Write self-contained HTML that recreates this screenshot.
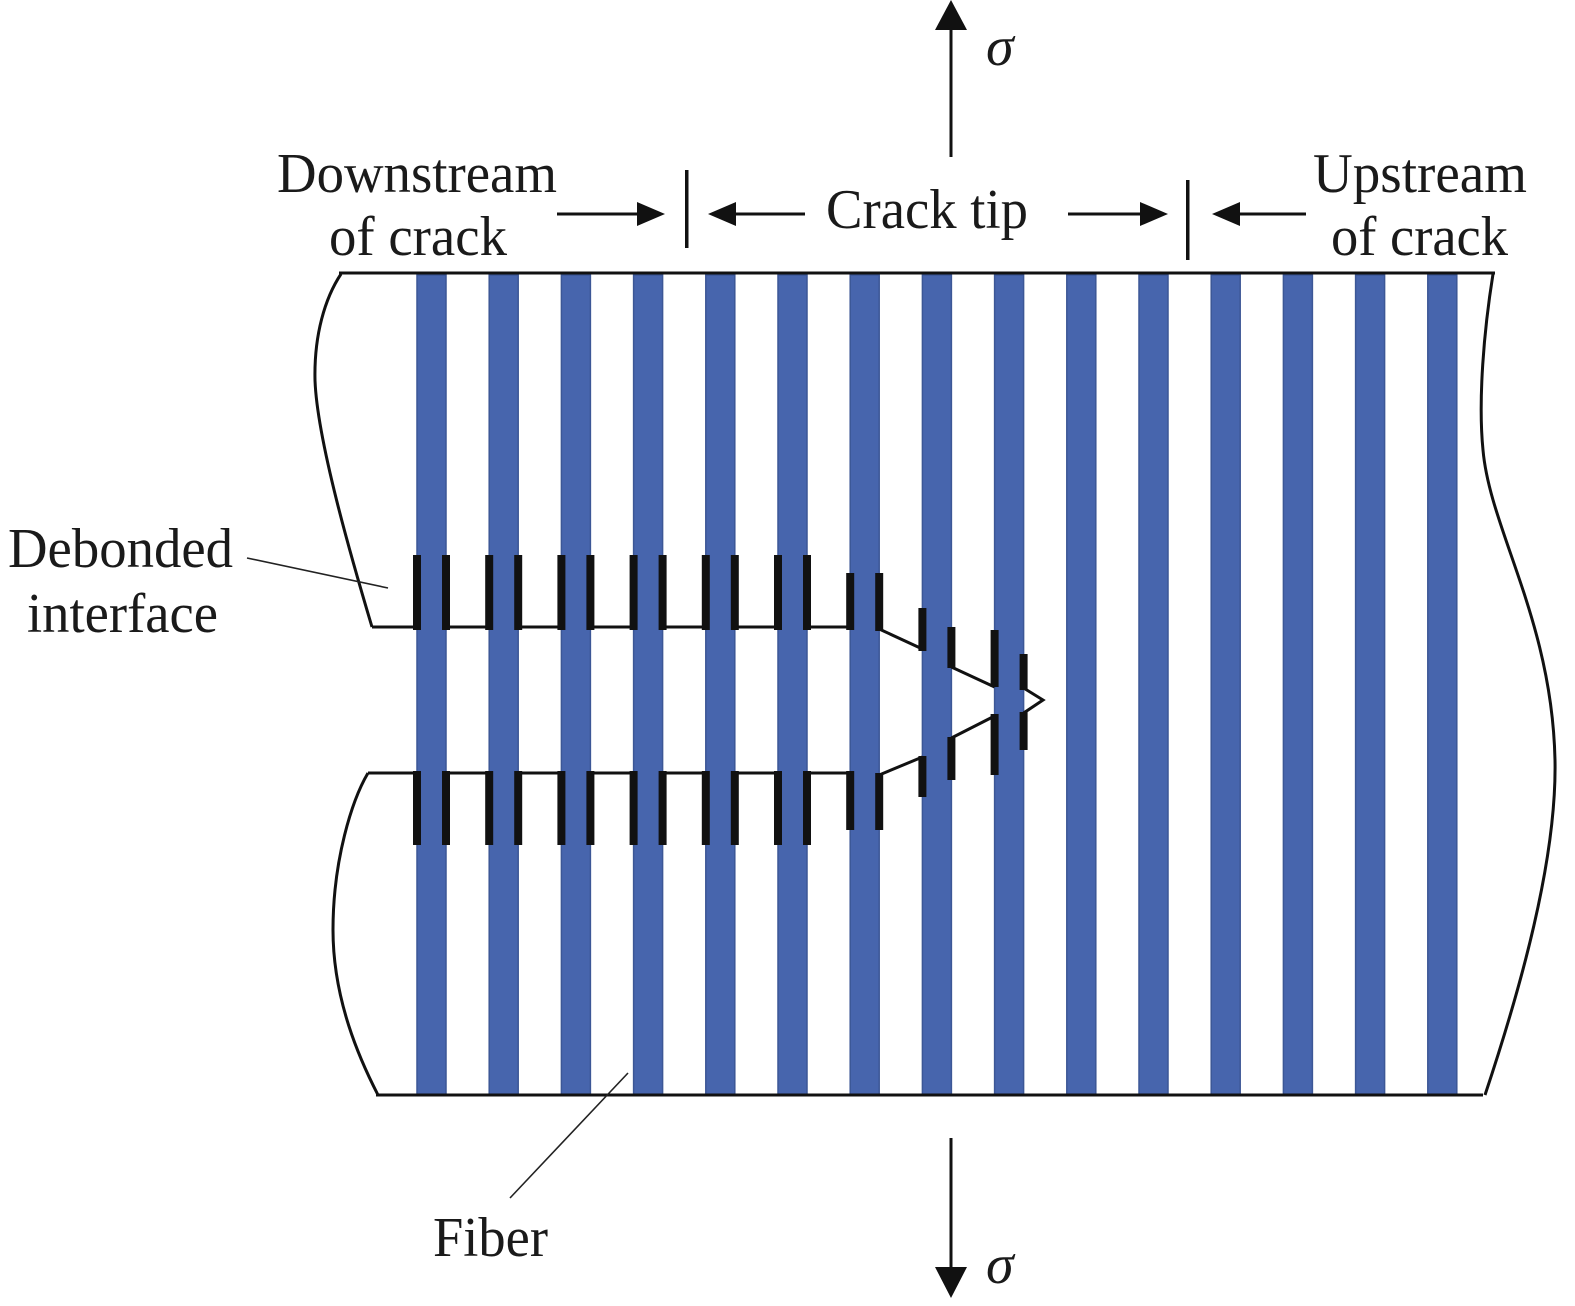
<!DOCTYPE html>
<html>
<head>
<meta charset="utf-8">
<style>
  html, body { margin: 0; padding: 0; background: #ffffff; }
  svg { display: block; }
  text { font-family: "Liberation Serif", "DejaVu Serif", serif; fill: #1a1a1a; }
</style>
</head>
<body>
<svg width="1575" height="1306" viewBox="0 0 1575 1306" xmlns="http://www.w3.org/2000/svg">
  <rect x="0" y="0" width="1575" height="1306" fill="#ffffff"/>

  <!-- Fibers -->
  <g fill="#4765ad" stroke="#3c5796" stroke-width="1.5">
    <rect x="417" y="275" width="29" height="820"/>
    <rect x="489.2" y="275" width="29" height="820"/>
    <rect x="561.4" y="275" width="29" height="820"/>
    <rect x="633.6" y="275" width="29" height="820"/>
    <rect x="705.8" y="275" width="29" height="820"/>
    <rect x="778" y="275" width="29" height="820"/>
    <rect x="850.2" y="275" width="29" height="820"/>
    <rect x="922.4" y="275" width="29" height="820"/>
    <rect x="994.6" y="275" width="29" height="820"/>
    <rect x="1066.8" y="275" width="29" height="820"/>
    <rect x="1139" y="275" width="29" height="820"/>
    <rect x="1211.2" y="275" width="29" height="820"/>
    <rect x="1283.4" y="275" width="29" height="820"/>
    <rect x="1355.6" y="275" width="29" height="820"/>
    <rect x="1427.8" y="275" width="29" height="820"/>
  </g>

  <!-- Top and bottom boundary lines -->
  <g stroke="#111" stroke-width="3" fill="none">
    <path d="M339,273 H1495"/>
    <path d="M376,1095 H1483"/>
    <!-- Left boundaries -->
    <path d="M341,274 C325,298 314,335 315,380 C317,440 352,560 372,627"/>
    <path d="M368,773 C352,800 333,860 333,930 C333,1000 360,1060 378,1095"/>
    <!-- Right boundary -->
    <path d="M1493,274 C1484,330 1478,400 1483,450 C1490,530 1552,620 1555,760 C1557,860 1520,990 1485,1095"/>
  </g>

  <!-- Crack lines -->
  <g stroke="#111" stroke-width="3" fill="none" stroke-linejoin="miter">
    <path d="M372,627 H417"/>
    <path d="M446,627 H489.2"/>
    <path d="M518.2,627 H561.4"/>
    <path d="M590.4,627 H633.6"/>
    <path d="M662.6,627 H705.8"/>
    <path d="M734.8,627 H778"/>
    <path d="M807,627 H850.2"/>
    <path d="M879.2,629 L922.4,649"/>
    <path d="M951.4,667 L994.6,687"/>
    <path d="M1023.6,688 L1043,700 L1023.6,713"/>

    <path d="M368,773 H417"/>
    <path d="M446,773 H489.2"/>
    <path d="M518.2,773 H561.4"/>
    <path d="M590.4,773 H633.6"/>
    <path d="M662.6,773 H705.8"/>
    <path d="M734.8,773 H778"/>
    <path d="M807,773 H850.2"/>
    <path d="M879.2,775 L922.4,757"/>
    <path d="M951.4,738 L994.6,716"/>
  </g>

  <!-- Debonded interface ticks -->
  <g fill="#111">
    <!-- upper -->
    <rect x="413" y="555" width="8" height="75"/>
    <rect x="442" y="555" width="8" height="75"/>
    <rect x="485.2" y="555" width="8" height="75"/>
    <rect x="514.2" y="555" width="8" height="75"/>
    <rect x="557.4" y="555" width="8" height="75"/>
    <rect x="586.4" y="555" width="8" height="75"/>
    <rect x="629.6" y="555" width="8" height="75"/>
    <rect x="658.6" y="555" width="8" height="75"/>
    <rect x="701.8" y="555" width="8" height="75"/>
    <rect x="730.8" y="555" width="8" height="75"/>
    <rect x="774" y="555" width="8" height="75"/>
    <rect x="803" y="555" width="8" height="75"/>
    <rect x="846.2" y="573" width="8" height="57"/>
    <rect x="875.2" y="573" width="8" height="58"/>
    <rect x="918.4" y="608" width="8" height="43"/>
    <rect x="947.4" y="627" width="8" height="41"/>
    <rect x="990.6" y="630" width="8" height="57"/>
    <rect x="1019.6" y="654" width="8" height="36"/>
    <!-- lower -->
    <rect x="413" y="771" width="8" height="74"/>
    <rect x="442" y="771" width="8" height="74"/>
    <rect x="485.2" y="771" width="8" height="74"/>
    <rect x="514.2" y="771" width="8" height="74"/>
    <rect x="557.4" y="771" width="8" height="74"/>
    <rect x="586.4" y="771" width="8" height="74"/>
    <rect x="629.6" y="771" width="8" height="74"/>
    <rect x="658.6" y="771" width="8" height="74"/>
    <rect x="701.8" y="771" width="8" height="74"/>
    <rect x="730.8" y="771" width="8" height="74"/>
    <rect x="774" y="771" width="8" height="74"/>
    <rect x="803" y="771" width="8" height="74"/>
    <rect x="846.2" y="771" width="8" height="59"/>
    <rect x="875.2" y="773" width="8" height="57"/>
    <rect x="947.4" y="737" width="8" height="43"/>
    <rect x="918.4" y="756" width="8" height="41"/>
    <rect x="990.6" y="714" width="8" height="61"/>
    <rect x="1019.6" y="712" width="8" height="38"/>
  </g>

  <!-- Leader lines -->
  <g stroke="#222" stroke-width="1.6" fill="none">
    <path d="M247,558 L388,588"/>
    <path d="M628,1073 L510,1198"/>
  </g>

  <!-- Sigma arrows -->
  <g stroke="#111" stroke-width="3" fill="none">
    <path d="M951,28 V157"/>
    <path d="M951,1138 V1270"/>
  </g>
  <g fill="#111">
    <polygon points="951,0 935,30 967,30"/>
    <polygon points="951,1298 935,1267 967,1267"/>
  </g>

  <!-- Horizontal arrows and bars -->
  <g stroke="#111" stroke-width="3" fill="none">
    <path d="M557,214 H640"/>
    <path d="M734,214 H805"/>
    <path d="M1068,214 H1142"/>
    <path d="M1238,214 H1306"/>
  </g>
  <g fill="#111">
    <polygon points="665,214 637,202 637,226"/>
    <polygon points="708,214 736,202 736,226"/>
    <polygon points="1168,214 1140,202 1140,226"/>
    <polygon points="1212,214 1240,202 1240,226"/>
    <rect x="685" y="170" width="3.5" height="78"/>
    <rect x="1186" y="180" width="3.5" height="80"/>
  </g>

  <!-- Labels -->
  <text x="277" y="192" font-size="56" textLength="280" lengthAdjust="spacingAndGlyphs">Downstream</text>
  <text x="329" y="255" font-size="56" textLength="178" lengthAdjust="spacingAndGlyphs">of crack</text>
  <text x="826" y="228" font-size="56" textLength="202" lengthAdjust="spacingAndGlyphs">Crack tip</text>
  <text x="1313" y="192" font-size="56" textLength="214" lengthAdjust="spacingAndGlyphs">Upstream</text>
  <text x="1331" y="255" font-size="56" textLength="177" lengthAdjust="spacingAndGlyphs">of crack</text>
  <text x="8" y="567" font-size="56" textLength="225" lengthAdjust="spacingAndGlyphs">Debonded</text>
  <text x="27" y="632" font-size="56" textLength="191" lengthAdjust="spacingAndGlyphs">interface</text>
  <text x="433" y="1256" font-size="56" textLength="115" lengthAdjust="spacingAndGlyphs">Fiber</text>
  <text x="986" y="65" font-size="56" font-style="italic">σ</text>
  <text x="986" y="1283" font-size="56" font-style="italic">σ</text>
</svg>
</body>
</html>
